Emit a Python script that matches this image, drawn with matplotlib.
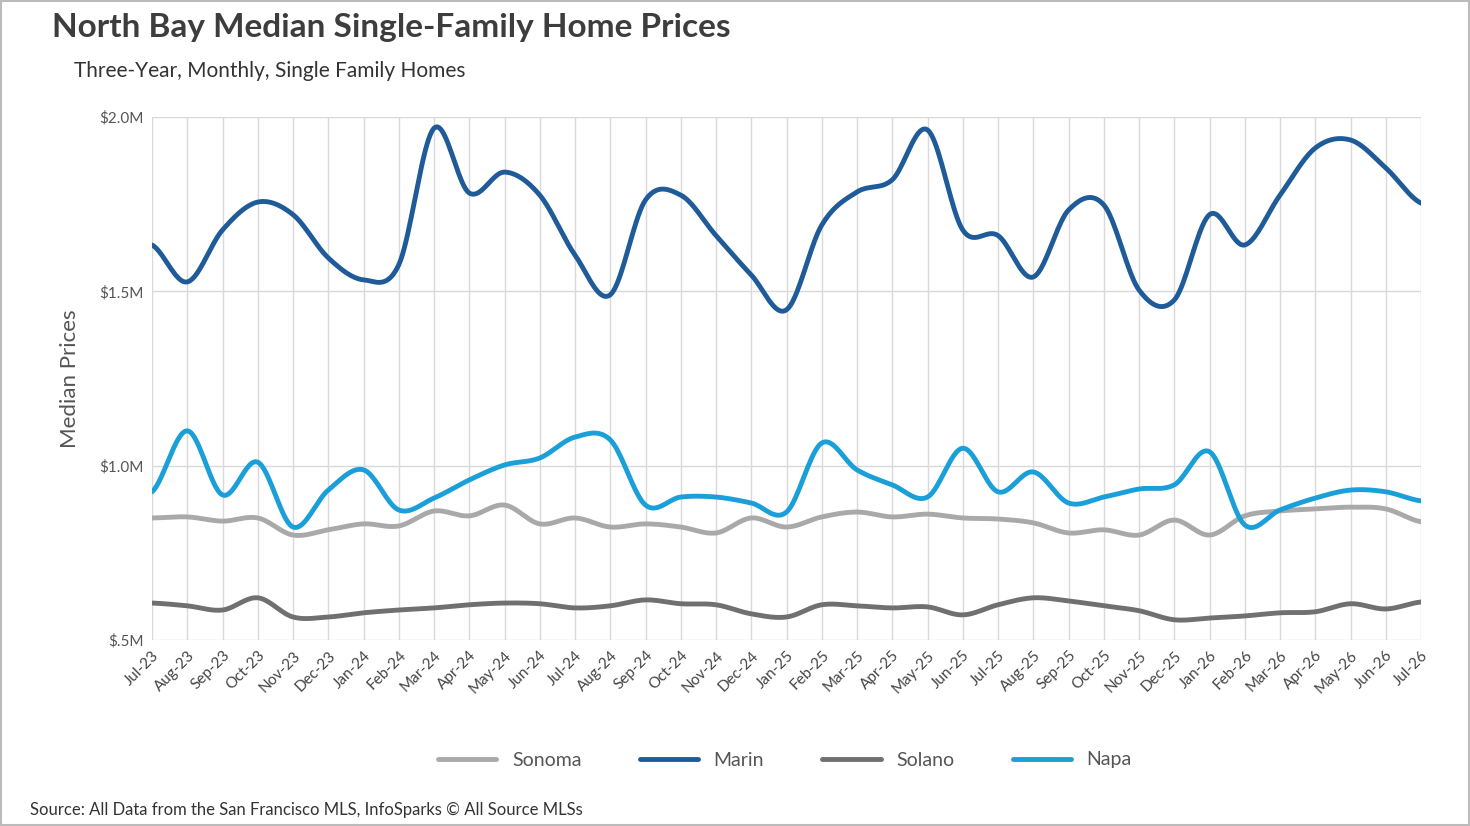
import numpy as np
import matplotlib
matplotlib.use("Agg")
import matplotlib.pyplot as plt
from matplotlib.patches import Rectangle

plt.rcParams['font.family'] = ['Lato', 'DejaVu Sans']

months = ["Jul-23","Aug-23","Sep-23","Oct-23","Nov-23","Dec-23","Jan-24","Feb-24","Mar-24","Apr-24","May-24","Jun-24",
          "Jul-24","Aug-24","Sep-24","Oct-24","Nov-24","Dec-24","Jan-25","Feb-25","Mar-25","Apr-25","May-25","Jun-25",
          "Jul-25","Aug-25","Sep-25","Oct-25","Nov-25","Dec-25","Jan-26","Feb-26","Mar-26","Apr-26","May-26","Jun-26","Jul-26"]
marin = [1.633,1.527,1.676,1.756,1.72,1.596,1.533,1.576,1.968,1.782,1.842,1.776,1.604,1.49,1.762,1.776,1.66,1.547,1.447,
         1.69,1.785,1.82,1.963,1.676,1.66,1.541,1.733,1.748,1.504,1.475,1.72,1.633,1.776,1.911,1.934,1.854,1.753]
napa = [0.925,1.10,0.916,1.01,0.824,0.93,0.988,0.873,0.907,0.959,1.002,1.022,1.082,1.074,0.887,0.910,0.910,0.893,0.867,
        1.065,0.988,0.945,0.910,1.05,0.925,0.982,0.893,0.910,0.933,0.945,1.04,0.83,0.873,0.907,0.93,0.925,0.899]
sonoma = [0.85,0.853,0.841,0.85,0.801,0.816,0.833,0.827,0.870,0.856,0.887,0.833,0.85,0.824,0.833,0.824,0.807,0.85,0.824,
          0.853,0.867,0.853,0.861,0.85,0.847,0.836,0.807,0.816,0.801,0.844,0.801,0.856,0.870,0.876,0.881,0.876,0.839]
solano = [0.606,0.598,0.586,0.621,0.566,0.566,0.578,0.586,0.592,0.601,0.606,0.604,0.592,0.598,0.615,0.604,0.601,0.575,0.566,
          0.601,0.598,0.592,0.595,0.572,0.601,0.621,0.612,0.598,0.584,0.558,0.563,0.569,0.578,0.581,0.604,0.589,0.609]

def smooth(y, n=20):
    y = np.asarray(y, float)
    x = np.arange(len(y))
    p = np.concatenate([[y[0]], y, [y[-1]]])
    xs, ys = [], []
    for i in range(len(y) - 1):
        p0, p1, p2, p3 = p[i], p[i+1], p[i+2], p[i+3]
        t = np.linspace(0, 1, n, endpoint=False)
        m1 = (p2 - p0) / 2
        m2 = (p3 - p1) / 2
        h = (2*t**3 - 3*t**2 + 1)*p1 + (t**3 - 2*t**2 + t)*m1 + (-2*t**3 + 3*t**2)*p2 + (t**3 - t**2)*m2
        xs.append(x[i] + t); ys.append(h)
    xs.append([x[-1]]); ys.append([y[-1]])
    return np.concatenate(xs), np.concatenate(ys)

fig = plt.figure(figsize=(14.7, 8.26), dpi=100)
W, H = 1470, 826
ax = fig.add_axes([152/W, 1-640/H, (1421-152)/W, (640-117)/H])

series = [("Sonoma", sonoma, "#a9a9a9"), ("Marin", marin, "#1f5b99"),
          ("Solano", solano, "#707070"), ("Napa", napa, "#1a9fd9")]
for name, vals, c in series:
    xs, ys = smooth(vals)
    ax.plot(xs, ys, color=c, lw=3.5, label=name, solid_capstyle='round')

ax.set_xlim(0, len(months)-1)
ax.set_ylim(0.5, 2.0)
ax.set_xticks(range(len(months)))
ax.set_xticklabels(months, rotation=45, ha='right', rotation_mode='anchor', fontsize=11, color='#444')
ax.set_yticks([0.5, 1.0, 1.5, 2.0])
ax.set_yticklabels(["$.5M", "$1.0M", "$1.5M", "$2.0M"], fontsize=11, color='#555')
ax.grid(True, color='#d9d9d9', lw=1)
ax.set_axisbelow(True)
for s in ax.spines.values():
    s.set_visible(False)
ax.tick_params(length=0, pad=6)
ax.set_ylabel("Median Prices", fontsize=16, color='#555', labelpad=14)

fig.text(52/W, 1-28/H, "North Bay Median Single-Family Home Prices", fontsize=24, fontweight='bold', color='#3d3d3d', va='center')
fig.text(74/W, 1-71/H, "Three-Year, Monthly, Single Family Homes", fontsize=15, color='#333', va='center')
fig.text(30/W, 1-810/H, "Source: All Data from the San Francisco MLS, InfoSparks © All Source MLSs", fontsize=12, color='#333', va='center')

fig.legend(loc='center', bbox_to_anchor=(785/W, 1-760/H), ncol=4, frameon=False, fontsize=14,
           handlelength=3, columnspacing=3, labelcolor='#555')
fig.add_artist(Rectangle((1/W, 1/H), 1-2/W, 1-2/H, transform=fig.transFigure, fill=False, ec='#bbbbbb', lw=1.5))
fig.savefig("out.png", dpi=100)
